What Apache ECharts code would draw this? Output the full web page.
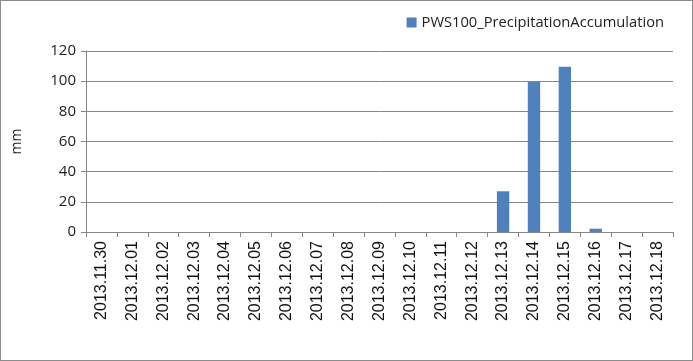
<!DOCTYPE html>
<html><head><meta charset="utf-8">
<script src="https://cdn.jsdelivr.net/npm/echarts@6/dist/echarts.min.js"></script>
<style>html,body{margin:0;padding:0;background:#fff}#c{width:693px;height:361px;box-sizing:border-box;border:1px solid #8c8c8c}</style>
</head><body><div id="c"></div>
<script>
const categories = ['2013.11.30','2013.12.01','2013.12.02','2013.12.03','2013.12.04','2013.12.05','2013.12.06','2013.12.07','2013.12.08','2013.12.09','2013.12.10','2013.12.11','2013.12.12','2013.12.13','2013.12.14','2013.12.15','2013.12.16','2013.12.17','2013.12.18'];
const precipitation = [0,0,0,0,0,0,0,0,0,0,0,0,0,27,99.5,109.5,2.2,0,0];
const seriesName = 'PWS100_PrecipitationAccumulation';
const yTicks = {min:0, max:120, interval:20};
const yName = 'mm';

const chart = echarts.init(document.getElementById('c'), null, {renderer:'canvas'});
chart.setOption({
  animation:false,
  backgroundColor:'#fff',
  legend:{
    data:[seriesName], top:9, right:23, itemWidth:10, itemHeight:10, itemGap:4,
    icon:'rect',
    textStyle:{fontFamily:'Open Sans', fontSize:14.7, color:'#222'}
  },
  grid:{left:85, right:19, top:50, bottom:128, containLabel:false},
  xAxis:{
    type:'category', data:categories, boundaryGap:true,
    axisLine:{lineStyle:{color:'#868686'}},
    axisTick:{show:true, length:5, alignWithLabel:false, lineStyle:{color:'#868686'}},
    axisLabel:{rotate:90, interval:0, fontFamily:'Liberation Sans', fontSize:16, color:'#111', margin:9}
  },
  yAxis:{
    type:'value', min:yTicks.min, max:yTicks.max, interval:yTicks.interval,
    name:yName, nameLocation:'middle', nameGap:62, nameRotate:90,
    nameTextStyle:{fontFamily:'Open Sans', fontSize:14, color:'#222'},
    axisLine:{show:true, lineStyle:{color:'#868686'}},
    axisTick:{show:true, length:5, lineStyle:{color:'#868686'}},
    axisLabel:{fontFamily:'Open Sans', fontSize:15, color:'#222', margin:10},
    splitLine:{lineStyle:{color:'#868686', width:1}}
  },
  series:[{
    name:seriesName, type:'bar', data:precipitation,
    barCategoryGap:'60%',
    itemStyle:{color:'#4f81bd'}
  }]
});
</script></body></html>
